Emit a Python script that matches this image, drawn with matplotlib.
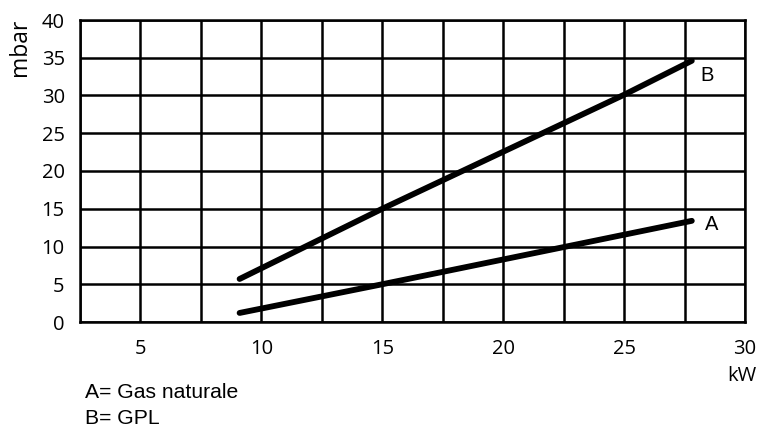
import matplotlib
matplotlib.use("Agg")
import matplotlib.pyplot as plt
import numpy as np

# Data
x_a = [9.1, 15.0, 27.8]
y_a = [1.2, 5.0, 13.4]
x_b = [9.1, 15.0, 25.0, 27.8]
y_b = [5.7, 15.0, 30.1, 34.6]
x_ticks = [5, 10, 15, 20, 25, 30]
y_ticks = [0, 5, 10, 15, 20, 25, 30, 35, 40]

fig = plt.figure(figsize=(7.61, 4.30), dpi=100)
ax = fig.add_axes([80/761, 1-322/430, (745-80)/761, (322-20)/430])

ax.set_xlim(2.5, 30)
ax.set_ylim(0, 40)
ax.set_xticks(x_ticks)
ax.set_xticks(np.arange(2.5, 30.01, 2.5), minor=True)
ax.set_yticks(y_ticks)
ax.grid(True, which='both', color='black', linewidth=1.8)
ax.tick_params(which='both', length=0)
ax.tick_params(axis='x', pad=12, labelsize=14.5)
ax.tick_params(axis='y', pad=11, labelsize=14.5)
for lab in ax.get_xticklabels() + ax.get_yticklabels():
    lab.set_fontfamily('Open Sans')
for s in ax.spines.values():
    s.set_linewidth(1.8)
    s.set_color('black')
ax.set_axisbelow(True)

ax.plot(x_a, y_a, color='black', linewidth=4.2, solid_capstyle='round')
ax.plot(x_b, y_b, color='black', linewidth=4.2, solid_capstyle='round')

ax.text(28.35, 12.9, "A", fontsize=14.5, family='Liberation Sans', ha='left', va='center')
ax.text(28.15, 32.7, "B", fontsize=14.5, family='Liberation Sans', ha='left', va='center')

fig.text(20/761, 1-47/430, "mbar", rotation=90, fontsize=16.5, family='Open Sans', ha='center', va='center')
fig.text(742/761, 1-376/430, "kW", fontsize=14.5, family='Open Sans', ha='center', va='center')
fig.text(85/761, 1-392/430, "A= Gas naturale", fontsize=15.2, family='Liberation Sans', ha='left', va='center')
fig.text(85/761, 1-418/430, "B= GPL", fontsize=15.2, family='Liberation Sans', ha='left', va='center')

fig.savefig("out.png", dpi=100)
